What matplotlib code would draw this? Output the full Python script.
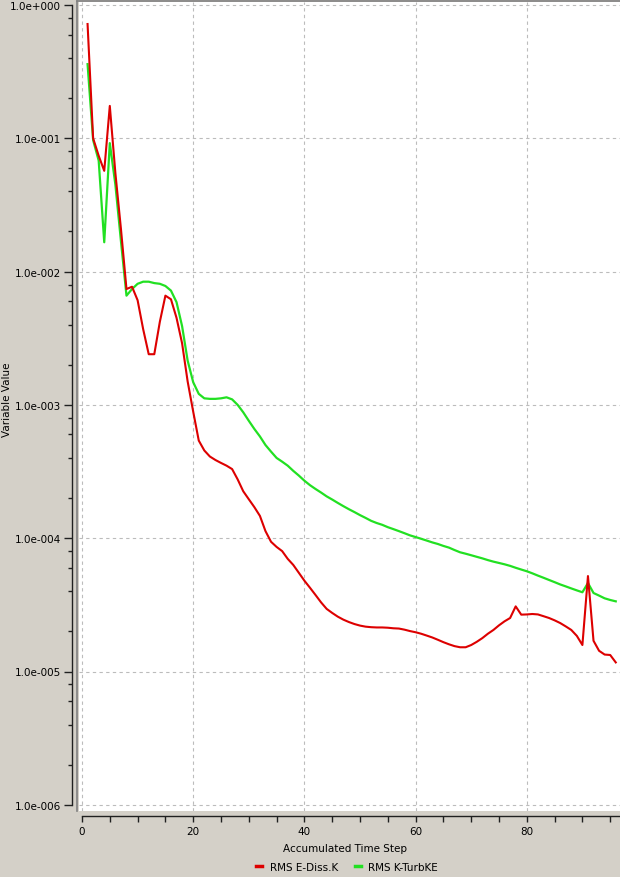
import matplotlib
matplotlib.use("Agg")
import matplotlib.pyplot as plt
from matplotlib.ticker import FixedLocator, FuncFormatter, MultipleLocator
from matplotlib.lines import Line2D
import numpy as np

steps = list(range(1, 97))

rms_e_diss = [
    0.72, 0.100, 0.074, 0.057, 0.175, 0.055, 0.021, 0.0074, 0.0077, 0.0061,
    0.0037, 0.0024, 0.0024, 0.0042, 0.0066, 0.0062, 0.0045, 0.0029, 0.0015, 0.00089,
    0.00054, 0.000455, 0.00041, 0.000386, 0.000367, 0.00035, 0.00033, 0.000276, 0.000225, 0.000196,
    0.000171, 0.000147, 0.000113, 9.4e-5, 8.6e-5, 8.0e-5, 7.0e-5, 6.3e-5, 5.5e-5, 4.8e-5,
    4.25e-5, 3.75e-5, 3.3e-5, 2.95e-5, 2.75e-5, 2.58e-5, 2.45e-5, 2.35e-5, 2.27e-5, 2.21e-5,
    2.17e-5, 2.15e-5, 2.14e-5, 2.14e-5, 2.13e-5, 2.11e-5, 2.10e-5, 2.06e-5, 2.01e-5, 1.97e-5,
    1.92e-5, 1.86e-5, 1.80e-5, 1.73e-5, 1.66e-5, 1.60e-5, 1.55e-5, 1.52e-5, 1.52e-5, 1.58e-5,
    1.67e-5, 1.78e-5, 1.92e-5, 2.05e-5, 2.22e-5, 2.38e-5, 2.52e-5, 3.08e-5, 2.67e-5, 2.68e-5,
    2.70e-5, 2.68e-5, 2.60e-5, 2.52e-5, 2.42e-5, 2.31e-5, 2.18e-5, 2.05e-5, 1.85e-5, 1.58e-5,
    5.2e-5, 1.7e-5, 1.43e-5, 1.34e-5, 1.33e-5, 1.17e-5,
]

rms_k_turbke = [
    0.36, 0.097, 0.068, 0.0166, 0.092, 0.045, 0.017, 0.0066, 0.0074, 0.0081,
    0.0084, 0.0084, 0.0082, 0.0081, 0.0078, 0.0072, 0.0059, 0.0039, 0.00215, 0.00148,
    0.00121, 0.00112, 0.00111, 0.00111, 0.00112, 0.00114, 0.00110, 0.00100, 0.00088, 0.00076,
    0.00066, 0.00058, 0.00050, 0.000446, 0.000400, 0.000375, 0.00035, 0.00032, 0.000295, 0.00027,
    0.00025, 0.000234, 0.00022, 0.000206, 0.000195, 0.000184, 0.000174, 0.000165, 0.000157, 0.000149,
    0.000142, 0.000135, 0.00013, 0.000126, 0.000121, 0.000117, 0.000113, 0.000109, 0.000105, 0.000102,
    9.9e-5, 9.6e-5, 9.3e-5, 9.05e-5, 8.75e-5, 8.5e-5, 8.15e-5, 7.84e-5, 7.65e-5, 7.45e-5,
    7.25e-5, 7.06e-5, 6.85e-5, 6.67e-5, 6.52e-5, 6.37e-5, 6.2e-5, 6.0e-5, 5.82e-5, 5.65e-5,
    5.45e-5, 5.24e-5, 5.05e-5, 4.86e-5, 4.68e-5, 4.5e-5, 4.35e-5, 4.2e-5, 4.06e-5, 3.93e-5,
    4.61e-5, 3.88e-5, 3.71e-5, 3.54e-5, 3.44e-5, 3.36e-5,
]

series_labels = ["RMS E-Diss.K", "RMS K-TurbKE"]
y_decades = [1e0, 1e-1, 1e-2, 1e-3, 1e-4, 1e-5, 1e-6]
x_major = [0, 20, 40, 60, 80]

W, H = 620, 878
BG = "#d4d0c8"
RED = "#dd0000"
GREEN = "#22e022"

plt.rcParams['font.family'] = ['DejaVu Sans']
fig = plt.figure(figsize=(W / 100, H / 100), dpi=100, facecolor=BG)

left_px, right_px, top_px, bot_px = 79, 620, 3, 812
ax = fig.add_axes([left_px / W, 1 - bot_px / H, (right_px - left_px) / W, (bot_px - top_px) / H])
ax.set_facecolor("white")

ax.plot(steps, rms_e_diss, color=RED, lw=1.5, label=series_labels[0], zorder=3)
ax.plot(steps, rms_k_turbke, color=GREEN, lw=1.6, label=series_labels[1], zorder=2)

ax.set_yscale("log")
px_per_unit = 5.56
x0_px = 82
ax.set_xlim((left_px - x0_px) / px_per_unit, (right_px - x0_px) / px_per_unit)
dec = 133.3
ax.set_ylim(10 ** (-(bot_px - 6) / dec), 10 ** ((6 - top_px) / dec))

ax.yaxis.set_major_locator(FixedLocator(y_decades))
minors = []
for d in y_decades[1:]:
    for m in (2, 4, 6, 8):
        minors.append(m * d)
ax.yaxis.set_minor_locator(FixedLocator(minors))


def fmt(v, pos):
    e = int(round(np.log10(v)))
    return "1.0e%s%03d" % ("+" if e >= 0 else "-", abs(e))


ax.yaxis.set_major_formatter(FuncFormatter(fmt))
ax.yaxis.set_minor_formatter(FuncFormatter(lambda v, p: ""))

ax.xaxis.set_major_locator(FixedLocator(x_major))
ax.xaxis.set_minor_locator(MultipleLocator(5))

ax.grid(True, which="major", color="#bcbcbc", linestyle=(0, (3, 3)), lw=0.8)

for s in ("top", "right"):
    ax.spines[s].set_visible(False)
ax.spines["left"].set_position(("outward", 5))
ax.spines["bottom"].set_position(("outward", 3.6))
ax.spines["left"].set_bounds(1e-6, 1.0)
ax.spines["bottom"].set_bounds(0, (right_px - x0_px) / px_per_unit)
for s in ("left", "bottom"):
    ax.spines[s].set_color("#202020")
    ax.spines[s].set_linewidth(1.0)

ax.tick_params(axis="y", which="major", direction="out", length=6, width=1, labelsize=7.5, pad=2, color="#202020")
ax.tick_params(axis="y", which="minor", direction="out", length=3, width=1, color="#202020")
ax.tick_params(axis="x", which="both", direction="out", length=4.5, width=1, labelsize=7.5, pad=3, color="#202020")

# plot frame border (left and top edges only)
fx = 77.0 / W
fy_top = 1 - 2.0 / H
fy_bot = 1 - 812.0 / H
fig.add_artist(Line2D([fx, fx], [fy_bot, fy_top], transform=fig.transFigure, color="#808080", lw=1.2, zorder=5))
fig.add_artist(Line2D([fx, 1.0], [fy_top, fy_top], transform=fig.transFigure, color="#808080", lw=1.2, zorder=5))

fig.text(345 / W, 1 - 849 / H, "Accumulated Time Step", ha="center", va="center", fontsize=7.5)
fig.text(7 / W, 1 - 400 / H, "Variable Value", ha="center", va="center", rotation=90, fontsize=7.5)

handles = [Line2D([], [], color=RED, lw=2.5), Line2D([], [], color=GREEN, lw=2.5)]
fig.legend(handles, series_labels, loc="center", bbox_to_anchor=(347 / W, 1 - 868 / H), ncol=2,
           frameon=False, handlelength=0.6, handletextpad=0.7, columnspacing=1.6, fontsize=7.5)

fig.savefig("out.png", dpi=100, facecolor=BG)
